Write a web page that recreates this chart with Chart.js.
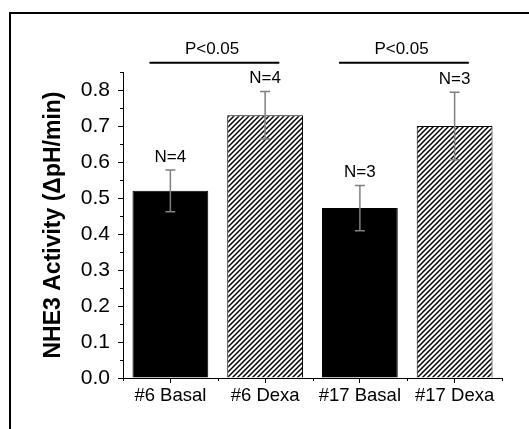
<!DOCTYPE html>
<html>
<head>
<meta charset="utf-8">
<script src="https://cdn.jsdelivr.net/npm/chart.js@4"></script>
<style>
  html, body { margin: 0; padding: 0; background: #fff; overflow: hidden; }
  #wrap { position: relative; width: 529px; height: 429px; }
  #frame { position: absolute; left: 9px; top: 12px; width: 600px; height: 500px; border: 2.5px solid #000; }
  #chart { position: absolute; left: 0; top: 0; }
</style>
</head>
<body>
<div id="wrap">
  <div id="frame"></div>
  <canvas id="chart" width="529" height="429"></canvas>
</div>
<script>
const categories = ['#6 Basal', '#6 Dexa', '#17 Basal', '#17 Dexa'];
const activity = [0.52, 0.73, 0.472, 0.70];
const sem = [0.058, 0.066, 0.063, 0.094];
const nLabels = ['N=4', 'N=4', 'N=3', 'N=3'];
const hatched = [false, true, false, true];
const sigPairs = [[0, 1], [2, 3]];
const sigLabels = ['P<0.05', 'P<0.05'];

const FONT = '"Liberation Sans", Arial, sans-serif';
Chart.defaults.font.family = FONT;
Chart.defaults.color = '#000';

// diagonal hatch like the original plot
function makeHatch() {
  const n = 5;
  const c = document.createElement('canvas');
  c.width = n; c.height = n;
  const g = c.getContext('2d');
  g.fillStyle = '#fff';
  g.fillRect(0, 0, n, n);
  g.strokeStyle = '#000';
  g.lineWidth = 1.5;
  g.beginPath();
  g.moveTo(-1, n + 1); g.lineTo(n + 1, -1);
  g.moveTo(-1, 1); g.lineTo(1, -1);
  g.moveTo(n - 1, n + 1); g.lineTo(n + 1, n - 1);
  g.stroke();
  return g.createPattern(c, 'repeat');
}

const isMajor = (v) => Math.abs(v * 10 - Math.round(v * 10)) < 1e-6;

const annotations = {
  id: 'annotations',
  afterDatasetsDraw(chart) {
    const { ctx, chartArea: area, scales: { x, y } } = chart;
    ctx.save();

    // minor ticks
    ctx.strokeStyle = '#000';
    ctx.lineWidth = 1;
    ctx.beginPath();
    y.ticks.forEach((t) => {
      if (isMajor(t.value)) return;
      const py = Math.round(y.getPixelForValue(t.value)) + 0.5;
      ctx.moveTo(area.left, py);
      ctx.lineTo(area.left - 3, py);
    });
    for (let i = 0; i <= categories.length; i++) {
      const px = Math.round(x.getPixelForValue(i - 0.5)) + 0.5;
      ctx.moveTo(px, area.bottom);
      ctx.lineTo(px, area.bottom + 3);
    }
    ctx.stroke();

    // error bars
    ctx.strokeStyle = '#808080';
    ctx.lineWidth = 1.5;
    ctx.beginPath();
    activity.forEach((v, i) => {
      const cx = x.getPixelForValue(i);
      const top = y.getPixelForValue(v + sem[i]);
      const bot = y.getPixelForValue(v - sem[i]);
      ctx.moveTo(cx, top); ctx.lineTo(cx, bot);
      ctx.moveTo(cx - 5, top); ctx.lineTo(cx + 5, top);
      ctx.moveTo(cx - 5, bot); ctx.lineTo(cx + 5, bot);
    });
    ctx.stroke();

    // N labels
    ctx.fillStyle = '#000';
    ctx.font = '17px ' + FONT;
    ctx.textAlign = 'center';
    ctx.textBaseline = 'alphabetic';
    nLabels.forEach((t, i) => {
      ctx.fillText(t, x.getPixelForValue(i), y.getPixelForValue(activity[i] + sem[i]) - 8);
    });

    // significance brackets
    ctx.strokeStyle = '#000';
    ctx.lineWidth = 2;
    sigPairs.forEach(([a, b], k) => {
      const ly = y.getPixelForValue(0.876);
      ctx.beginPath();
      ctx.moveTo(x.getPixelForValue(a - 0.22), ly);
      ctx.lineTo(x.getPixelForValue(b + 0.15), ly);
      ctx.stroke();
      ctx.fillText(sigLabels[k], x.getPixelForValue(a + 0.44), y.getPixelForValue(0.9));
    });

    ctx.restore();
  }
};

const hatch = makeHatch();

new Chart(document.getElementById('chart'), {
  type: 'bar',
  data: {
    labels: categories,
    datasets: [{
      data: activity,
      backgroundColor: hatched.map((h) => (h ? hatch : '#000')),
      borderColor: '#000',
      borderWidth: 1,
      barPercentage: 0.8,
      categoryPercentage: 1,
    }],
  },
  options: {
    responsive: false,
    animation: false,
    layout: { padding: { left: 32, right: 27, top: 72, bottom: 11 } },
    plugins: { legend: { display: false }, tooltip: { enabled: false } },
    scales: {
      x: {
        offset: true,
        afterFit: (s) => { s.height = 40; },
        grid: { offset: false, drawOnChartArea: false, tickLength: 5, tickColor: '#000' },
        border: { color: '#000', width: 1 },
        ticks: { font: { size: 18.5 }, color: '#000', padding: 2 },
      },
      y: {
        min: 0,
        max: 0.85,
        afterFit: (s) => { s.width = 91; },
        grid: {
          drawOnChartArea: false,
          tickLength: 5,
          tickColor: (c) => (c.tick && isMajor(c.tick.value) ? '#000' : 'rgba(0,0,0,0)'),
        },
        border: { color: '#000', width: 1 },
        ticks: {
          stepSize: 0.05,
          autoSkip: false,
          padding: 8,
          font: { size: 21 },
          color: '#000',
          callback: (v) => (isMajor(v) ? v.toFixed(1) : ''),
        },
        title: {
          display: true,
          text: 'NHE3 Activity (ΔpH/min)',
          font: { size: 23, weight: 'bold' },
          color: '#000',
          padding: { top: 8, bottom: 0 },
        },
      },
    },
  },
  plugins: [annotations],
});
</script>
</body>
</html>
